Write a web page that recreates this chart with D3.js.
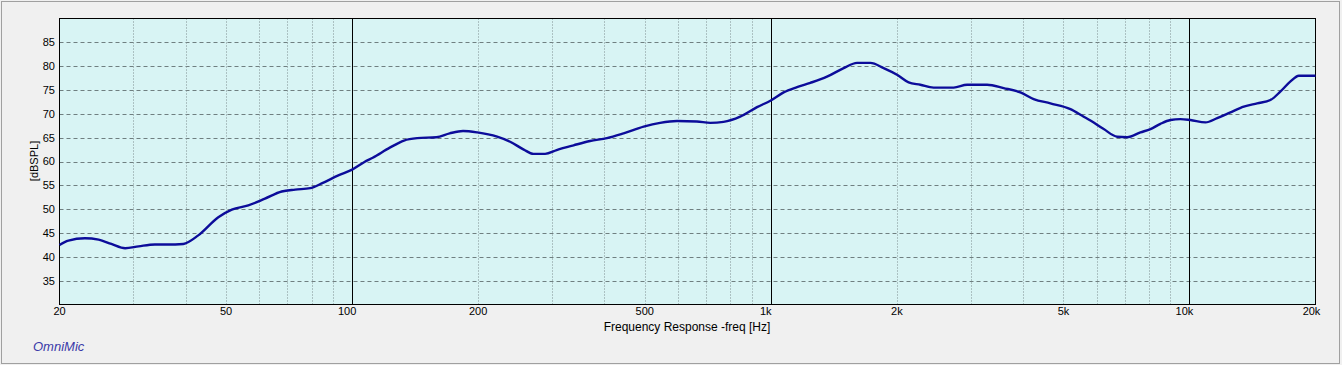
<!DOCTYPE html>
<html>
<head>
<meta charset="utf-8">
<script src="https://cdn.jsdelivr.net/npm/d3@7"></script>
<style>
  body { margin: 0; background: #f0f0f0; }
  svg { display: block; font-family: "Liberation Sans", Arial, sans-serif; }
</style>
</head>
<body>
<svg width="1342" height="365"></svg>
<script>
// response curve (Hz, dBSPL)
var freqs = [20, 21, 23, 24.8, 26.6, 28.7, 30.9, 33.8, 37.8, 39.5, 42.9, 47.9, 51.6, 56.5, 61.9, 67.9, 73.1, 79.4, 84.6, 92.7, 100, 107,
  112, 123, 133, 143, 159, 171, 184, 199, 222, 239, 257, 271, 289, 308, 338, 370, 406, 445, 497, 544, 597, 666, 717, 771, 845, 927, 1000,
  1073, 1155, 1243, 1362, 1493, 1607, 1729, 1860, 2002, 2134, 2276, 2448, 2734, 2944, 3286, 3600, 3946, 4245, 4654, 5196, 5590, 5800,
  6240, 6718, 7098, 7638, 8069, 8524, 9006, 9514, 10050, 10922, 11648, 12530, 13480, 14510, 15610, 16500, 17430, 18250, 20000];
var spl = [42.5, 43.4, 43.9, 43.6, 42.7, 41.8, 42.2, 42.6, 42.6, 42.7, 44.5, 48.3, 49.9, 50.8, 52.2, 53.7, 54.1, 54.4, 55.4, 57.1, 58.3, 59.9,
  60.8, 62.9, 64.4, 64.9, 65.1, 65.9, 66.4, 66.1, 65.2, 64.1, 62.5, 61.6, 61.6, 62.4, 63.4, 64.3, 64.9, 65.9, 67.3, 68.1, 68.5, 68.4, 68.1, 68.3, 69.4, 71.4, 72.8,
  74.5, 75.6, 76.5, 77.8, 79.6, 80.7, 80.7, 79.6, 78.2, 76.6, 76.1, 75.5, 75.5, 76.1, 76.1, 75.4, 74.5, 73.1, 72.2, 71.0, 69.4, 68.6,
  66.8, 65.2, 65.1, 66.1, 66.8, 67.9, 68.7, 68.9, 68.7, 68.2, 69.1, 70.3, 71.5, 72.2, 72.9, 74.7, 76.8, 78.0, 78.0];

var yTicks = [35, 40, 45, 50, 55, 60, 65, 70, 75, 80, 85];
var majorFreqs = [100, 1000, 10000];
var minorFreqs = [30, 40, 50, 60, 70, 80, 90, 200, 300, 400, 500, 600, 700, 800, 900,
  2000, 3000, 4000, 5000, 6000, 7000, 8000, 9000];
var xLabels = [
  {f: 20, t: '20'}, {f: 50, t: '50'}, {f: 100, t: '100'}, {f: 200, t: '200'}, {f: 500, t: '500'},
  {f: 1000, t: '1k'}, {f: 2000, t: '2k'}, {f: 5000, t: '5k'}, {f: 10000, t: '10k'}, {f: 20000, t: '20k'}
];

var svg = d3.select('svg');

var x = d3.scaleLog().domain([20, 20000]).range([59.5, 1315.5]),
  y = d3.scaleLinear().domain([30, 90]).range([304.5, 18.5]);

// outer frame
svg.append('rect')
  .attr('x', 1.5).attr('y', 1.5)
  .attr('width', 1338).attr('height', 362)
  .attr('fill', '#f0f0f0')
  .attr('stroke', '#a0a0a0');

// plot background
svg.append('rect')
  .attr('x', x(20)).attr('y', y(90))
  .attr('width', x(20000) - x(20)).attr('height', y(30) - y(90))
  .attr('fill', '#d8f4f4');

var g = svg.append('g');

g.selectAll('.hgrid')
  .data(yTicks)
  .enter()
  .append('line')
  .attr('class', 'hgrid')
  .attr('x1', x(20)).attr('x2', x(20000))
  .attr('y1', d => Math.round(y(d)) + 0.5).attr('y2', d => Math.round(y(d)) + 0.5)
  .attr('stroke', '#6f7f80')
  .attr('stroke-dasharray', '4,3');

g.selectAll('.vminor')
  .data(minorFreqs)
  .enter()
  .append('line')
  .attr('class', 'vminor')
  .attr('x1', d => Math.round(x(d)) + 0.5).attr('x2', d => Math.round(x(d)) + 0.5)
  .attr('y1', y(90)).attr('y2', y(30))
  .attr('stroke', '#7f8f90')
  .attr('stroke-dasharray', '1,2');

g.selectAll('.vmajor')
  .data(majorFreqs)
  .enter()
  .append('line')
  .attr('class', 'vmajor')
  .attr('x1', d => Math.round(x(d)) + 0.5).attr('x2', d => Math.round(x(d)) + 0.5)
  .attr('y1', y(90)).attr('y2', y(30))
  .attr('stroke', '#000');

// plot border
svg.append('rect')
  .attr('x', x(20)).attr('y', y(90))
  .attr('width', x(20000) - x(20)).attr('height', y(30) - y(90))
  .attr('fill', 'none')
  .attr('stroke', '#000');

// curve
var line = d3.line()
  .x((d, i) => x(freqs[i]))
  .y(d => y(d))
  .curve(d3.curveMonotoneX);

svg.append('path')
  .attr('d', line(spl))
  .attr('fill', 'none')
  .attr('stroke', '#0c0c9a')
  .attr('stroke-width', 2.4)
  .attr('stroke-linejoin', 'round');

// y tick labels
svg.selectAll('.ylab')
  .data(yTicks)
  .enter()
  .append('text')
  .attr('class', 'ylab')
  .attr('x', 55)
  .attr('y', d => y(d))
  .attr('dy', '0.36em')
  .attr('text-anchor', 'end')
  .style('font-size', '11px')
  .attr('fill', '#000')
  .text(d => d);

// x tick labels (decade labels sit a little left of their line)
svg.selectAll('.xlab')
  .data(xLabels)
  .enter()
  .append('text')
  .attr('class', 'xlab')
  .attr('x', d => x(d.f) + (d.f === 100 || d.f === 1000 || d.f === 10000 ? -5 : d.f === 20000 ? -4 : 0))
  .attr('y', 315)
  .attr('text-anchor', 'middle')
  .style('font-size', '11px')
  .attr('fill', '#000')
  .text(d => d.t);

svg.append('text')
  .attr('x', 687)
  .attr('y', 331)
  .attr('text-anchor', 'middle')
  .style('font-size', '12px')
  .attr('fill', '#000')
  .text('Frequency Response -freq [Hz]');

svg.append('text')
  .attr('transform', 'translate(38,161) rotate(-90)')
  .attr('text-anchor', 'middle')
  .style('font-size', '11px')
  .attr('fill', '#000')
  .text('[dBSPL]');

svg.append('text')
  .attr('x', 33)
  .attr('y', 351)
  .style('font-size', '13px')
  .style('font-style', 'italic')
  .attr('fill', '#3a3aa8')
  .text('OmniMic');
</script>
</body>
</html>
